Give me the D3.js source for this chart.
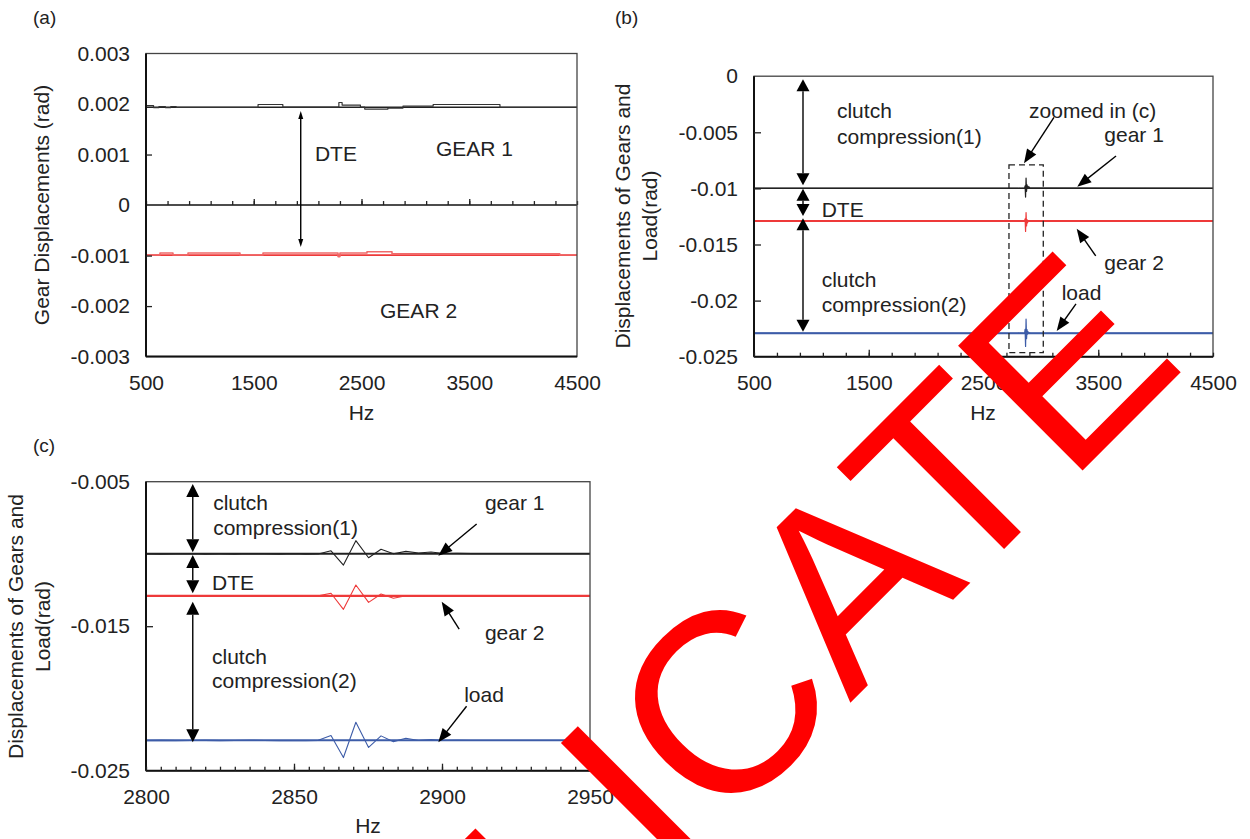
<!DOCTYPE html>
<html><head><meta charset="utf-8">
<script src="https://cdn.jsdelivr.net/npm/d3@7"></script>
<style>
body{margin:0;background:#fff;}
svg{display:block;font-family:"Liberation Sans",Arial,sans-serif;}
</style></head><body>
<svg id="chart" width="1250" height="839"></svg>
<script>
// ================= DATA =================
const hzLabelsWide = [500, 1500, 2500, 3500, 4500];
const hzLabelsZoom = [2800, 2850, 2900, 2950];
const yTicksA = [0.003, 0.002, 0.001, 0, -0.001, -0.002, -0.003];
const yTicksB = [0, -0.005, -0.01, -0.015, -0.02, -0.025];
const yTicksC = [-0.005, -0.015, -0.025];
const yLabelsA = ["0.003", "0.002", "0.001", "0", "-0.001", "-0.002", "-0.003"];
const yLabelsB = ["0", "-0.005", "-0.01", "-0.015", "-0.02", "-0.025"];
const yLabelsC = ["-0.005", "-0.015", "-0.025"];

// Panel (a): gear displacements (stepped traces + steady level)
const hzA_gear1 = [500, 570, 620, 680, 730, 780, 1540, 1770, 2290, 2320, 2490, 2530, 2745, 2885, 3165, 3785, 4500];
const valA_gear1 = [0.00197, 0.00193, 0.00195, 0.00193, 0.00195, 0.001935, 0.00199, 0.00194, 0.00203, 0.00198, 0.00194, 0.00190, 0.00192, 0.00196, 0.00199, 0.001935, 0.001935];
const levelA_gear1 = 0.001935;
const hzA_gear2 = [500, 630, 750, 890, 1372, 1586, 2282, 2300, 2551, 2783, 4340, 4500];
const valA_gear2 = [-0.00099, -0.00095, -0.00099, -0.00095, -0.00099, -0.00095, -0.00102, -0.00095, -0.000925, -0.000964, -0.00099, -0.00099];
const levelA_gear2 = -0.00099;

// Panels (b)/(c): steady levels and transient traces
const level_gear1 = -0.00999;
const level_gear2 = -0.0129;
const level_load = -0.0229;
const hzC = [2800, 2805, 2810, 2815, 2820, 2825, 2830, 2835, 2840, 2845, 2850, 2854, 2858.2, 2862.5, 2866.7, 2870.9, 2875.2, 2879.4, 2883.6, 2887.8, 2892.1, 2896.3, 2900.5, 2905, 2910, 2920, 2930, 2940, 2950];
const gear1C = [-0.01000, -0.01001, -0.01000, -0.00999, -0.01001, -0.01000, -0.01001, -0.00999, -0.01000, -0.01001, -0.00999, -0.01001, -0.01000, -0.00978, -0.01077, -0.00908, -0.01026, -0.00968, -0.00999, -0.00982, -0.00993, -0.00986, -0.00997, -0.00996, -0.00998, -0.00998, -0.00998, -0.00998, -0.00998];
const gear2C = [-0.01290, -0.01291, -0.01290, -0.01289, -0.01291, -0.01290, -0.01291, -0.01290, -0.01289, -0.01291, -0.01290, -0.01292, -0.01290, -0.01272, -0.01383, -0.01215, -0.01335, -0.01277, -0.01307, -0.01289, -0.01293, -0.01289, -0.01290, -0.01290, -0.01290, -0.01290, -0.01290, -0.01290, -0.01290];
const loadC = [-0.02292, -0.02290, -0.02292, -0.02291, -0.02290, -0.02292, -0.02291, -0.02289, -0.02291, -0.02293, -0.02291, -0.02292, -0.02290, -0.02256, -0.02409, -0.02165, -0.02339, -0.02259, -0.02299, -0.02276, -0.02291, -0.02285, -0.02291, -0.02290, -0.02291, -0.02291, -0.02291, -0.02291, -0.02291];

// ================= DRAW =================
const svg = d3.select("#chart");
const FONT = 21, INK = "#222", RED = "#ee3a3a", BLUE = "#3d5ca8";

function frame(g, x, y) {
  const [x0, x1] = x.range(), [yb, yt] = y.range();
  g.append("rect").attr("x", x0).attr("y", yt).attr("width", x1 - x0).attr("height", yb - yt)
    .attr("fill", "none").attr("stroke", "#444").attr("stroke-width", 1.3);
  g.append("line").attr("x1", x0).attr("x2", x0).attr("y1", yt).attr("y2", yb).attr("stroke", "#111").attr("stroke-width", 2);
  g.append("line").attr("x1", x0).attr("x2", x1).attr("y1", yb).attr("y2", yb).attr("stroke", "#111").attr("stroke-width", 2);
}
function styleAxis(a) {
  a.select(".domain").remove();
  a.attr("font-family", null).attr("font-size", null);
  a.selectAll("line").attr("stroke", INK).attr("stroke-width", 1.3);
  a.selectAll("text").attr("fill", INK).attr("font-size", FONT);
}
function xTickMarks(g, x, ypos, values, size) {
  g.append("g").attr("transform", `translate(0,${ypos})`)
    .call(d3.axisBottom(x).tickValues(values).tickSize(-size).tickFormat("")).call(styleAxis);
}
function xLabels(g, x, ypos, values) {
  g.append("g").attr("transform", `translate(0,${ypos})`)
    .call(d3.axisBottom(x).tickValues(values).tickSize(0).tickPadding(18).tickFormat(d3.format("d"))).call(styleAxis);
}
function yAxis(g, x, y, values, labels, tickVals, size) {
  const x0 = x.range()[0];
  g.append("g").attr("transform", `translate(${x0},0)`)
    .call(d3.axisLeft(y).tickValues(values).tickSize(0).tickPadding(16).tickFormat((d, i) => labels[i])).call(styleAxis);
  g.append("g").attr("transform", `translate(${x0},0)`)
    .call(d3.axisRight(y).tickValues(tickVals).tickSize(size).tickFormat("")).call(styleAxis);
}
function text(g, px, py, s, opts = {}) {
  return g.append("text").attr("x", px).attr("y", py).attr("fill", INK)
    .attr("font-size", opts.size || FONT).attr("text-anchor", opts.anchor || "start").text(s);
}
function head(g, tip, from, len, w) {
  const dx = tip[0] - from[0], dy = tip[1] - from[1], L = Math.hypot(dx, dy);
  const ux = dx / L, uy = dy / L, bx = tip[0] - ux * len, by = tip[1] - uy * len;
  g.append("path").attr("d", `M${tip[0]},${tip[1]}L${bx - uy * w / 2},${by + ux * w / 2}L${bx + uy * w / 2},${by - ux * w / 2}Z`).attr("fill", "#000");
  return [bx, by];
}
function arrow(g, from, tip, len, w) {
  const b = head(g, tip, from, len, w);
  g.append("line").attr("x1", from[0]).attr("y1", from[1]).attr("x2", b[0] + (tip[0] - b[0]) * 0.3).attr("y2", b[1] + (tip[1] - b[1]) * 0.3)
    .attr("stroke", "#000").attr("stroke-width", 1.4);
}
function dblArrow(g, p1, p2, len, w) {
  const b1 = head(g, p1, p2, len, w), b2 = head(g, p2, p1, len, w);
  g.append("line").attr("x1", b1[0]).attr("y1", b1[1]).attr("x2", b2[0]).attr("y2", b2[1]).attr("stroke", "#000").attr("stroke-width", 1.4);
}
function path(g, x, y, xs, ys, color, width, curve) {
  const ln = d3.line().x(d => x(d[0])).y(d => y(d[1]));
  if (curve) ln.curve(curve);
  g.append("path").datum(xs.map((h, i) => [h, ys[i]])).attr("d", ln)
    .attr("fill", "none").attr("stroke", color).attr("stroke-width", width).attr("stroke-linejoin", "round");
}
function hline(g, x, y, v, color, width) {
  const d = x.domain();
  path(g, x, y, [d[0], d[1]], [v, v], color, width);
}
function yTitle(g, cx, cy, lines, step) {
  lines.forEach((s, i) => g.append("text").attr("transform", `translate(${cx + i * step},${cy}) rotate(-90)`)
    .attr("text-anchor", "middle").attr("fill", INK).attr("font-size", FONT).text(s));
}

// ---------- Panel (a) ----------
{
  const g = svg.append("g");
  const x = d3.scaleLinear().domain([500, 4500]).range([146, 577]);
  const y = d3.scaleLinear().domain([-0.003, 0.003]).range([356.6, 53.5]);
  text(g, 33, 24, "(a)", {size: 19});
  // zero line with ticks
  hline(g, x, y, 0, "#111", 1.5);
  xTickMarks(g, x, y(0), d3.range(500, 4501, 200), 4);
  xTickMarks(g, x, y(0), [1500, 2500, 3500], 6);
  hline(g, x, y, levelA_gear1, "#222", 1.6);
  path(g, x, y, hzA_gear1, valA_gear1, "#333", 1.2, d3.curveStepAfter);
  hline(g, x, y, levelA_gear2, RED, 1.8);
  path(g, x, y, hzA_gear2, valA_gear2, "#f06a6a", 1.6, d3.curveStepAfter);
  frame(g, x, y);
  yAxis(g, x, y, yTicksA, yLabelsA, [0.001, -0.001, -0.002], 6);
  xLabels(g, x, y.range()[0], hzLabelsWide);
  text(g, (x.range()[0] + x.range()[1]) / 2, 420, "Hz", {anchor: "middle"});
  yTitle(g, 49, 205, ["Gear Displacements (rad)"], 0);
  dblArrow(g, [x(1936), y(0.00186)], [x(1936), y(-0.00083)], 8, 5);
  text(g, x(2068), y(0.00087), "DTE");
  text(g, x(3191), y(0.00097), "GEAR 1");
  text(g, x(2672), y(-0.00224), "GEAR 2");
}

// ---------- Panel (b) ----------
{
  const g = svg.append("g");
  const x = d3.scaleLinear().domain([500, 4500]).range([754, 1213]);
  const y = d3.scaleLinear().domain([-0.025, 0]).range([356.7, 76.2]);
  text(g, 615, 24, "(b)", {size: 19});
  const ext = (arr, lvl) => [lvl, ...arr, lvl];
  const hzB = [500, ...hzC, 4500];
  hline(g, x, y, level_gear1, "#222", 1.5);
  path(g, x, y, hzB, ext(gear1C, level_gear1), "#222", 1.2);
  hline(g, x, y, level_gear2, RED, 2);
  path(g, x, y, hzB, ext(gear2C, level_gear2), RED, 1.2);
  hline(g, x, y, level_load, BLUE, 2);
  path(g, x, y, hzB, ext(loadC, level_load), BLUE, 1.2);
  frame(g, x, y);
  xTickMarks(g, x, y.range()[0], d3.range(500, 4501, 200), 4);
  xTickMarks(g, x, y.range()[0], [1500, 2500, 3500], 7);
  yAxis(g, x, y, yTicksB, yLabelsB, [-0.005, -0.01, -0.015, -0.02], 7);
  xLabels(g, x, y.range()[0], hzLabelsWide);
  text(g, 983, 420, "Hz", {anchor: "middle"});
  yTitle(g, 630, 216, ["Displacements of Gears and", "Load(rad)"], 27);
  // dashed zoom box
  g.append("rect").attr("x", x(2722)).attr("y", y(-0.00791)).attr("width", x(3021) - x(2722)).attr("height", y(-0.02464) - y(-0.00791))
    .attr("fill", "none").attr("stroke", "#222").attr("stroke-width", 1.3).attr("stroke-dasharray", "6,4");
  const ax = 927;
  dblArrow(g, [x(ax), y(-0.00028)], [x(ax), y(-0.00973)], 12, 13);
  dblArrow(g, [x(ax), y(-0.01003)], [x(ax), y(-0.01246)], 12, 13);
  dblArrow(g, [x(ax), y(-0.01267)], [x(ax), y(-0.02277)], 12, 13);
  text(g, x(1223), y(-0.00375), "clutch");
  text(g, x(1223), y(-0.00607), "compression(1)");
  text(g, x(1090), y(-0.01252), "DTE");
  text(g, x(1090), y(-0.01876), "clutch");
  text(g, x(1090), y(-0.02099), "compression(2)");
  text(g, x(2897), y(-0.00375), "zoomed in (c)");
  text(g, x(3553), y(-0.00584), "gear 1");
  text(g, x(3553), y(-0.01727), "gear 2");
  text(g, x(3181), y(-0.01995), "load");
  arrow(g, [x(3114), y(-0.00366)], [x(2853), y(-0.00776)], 14, 11);
  arrow(g, [x(3655), y(-0.00711)], [x(3317), y(-0.00985)], 14, 11);
  arrow(g, [x(3478), y(-0.01602)], [x(3312), y(-0.01359)], 14, 11);
  arrow(g, [x(3306), y(-0.0203)], [x(3138), y(-0.02271)], 14, 11);
}

// ---------- Panel (c) ----------
{
  const g = svg.append("g");
  const x = d3.scaleLinear().domain([2800, 2950]).range([146, 590]);
  const y = d3.scaleLinear().domain([-0.025, -0.005]).range([770.7, 481.7]);
  text(g, 33, 452, "(c)", {size: 19});
  hline(g, x, y, level_gear1, "#222", 2);
  path(g, x, y, hzC, gear1C, "#222", 1.1);
  hline(g, x, y, level_gear2, RED, 2.2);
  path(g, x, y, hzC, gear2C, RED, 1.1);
  hline(g, x, y, level_load, BLUE, 2);
  path(g, x, y, hzC, loadC, BLUE, 1.1);
  frame(g, x, y);
  xTickMarks(g, x, y.range()[0], d3.range(2800, 2951, 5), 4);
  xTickMarks(g, x, y.range()[0], [2850, 2900], 7);
  yAxis(g, x, y, yTicksC, yLabelsC, [-0.015], 7);
  xLabels(g, x, y.range()[0], hzLabelsZoom);
  text(g, 368, 833, "Hz", {anchor: "middle"});
  yTitle(g, 23, 626.5, ["Displacements of Gears and", "Load(rad)"], 27);
  const ax = 2815.8;
  dblArrow(g, [x(ax), y(-0.00516)], [x(ax), y(-0.00989)], 13, 13);
  dblArrow(g, [x(ax), y(-0.01007)], [x(ax), y(-0.01272)], 13, 13);
  dblArrow(g, [x(ax), y(-0.0133)], [x(ax), y(-0.02303)], 13, 13);
  text(g, x(2822.7), y(-0.006938), "clutch");
  text(g, x(2822.7), y(-0.008668), "compression(1)");
  text(g, x(2822.3), y(-0.012474), "DTE");
  text(g, x(2822.3), y(-0.017616), "clutch");
  text(g, x(2822.3), y(-0.019298), "compression(2)");
  text(g, x(2914.5), y(-0.006938), "gear 1");
  text(g, x(2914.5), y(-0.015934), "gear 2");
  text(g, x(2907.5), y(-0.020266), "load");
  arrow(g, [x(2911.7), y(-0.007927)], [x(2898.75), y(-0.010121)], 14, 11);
  arrow(g, [x(2905.8), y(-0.015194)], [x(2899.9), y(-0.013304)], 14, 11);
  arrow(g, [x(2908.3), y(-0.020543)], [x(2898.75), y(-0.023035)], 14, 11);
}

// ---------- Overlay stamp ----------
svg.append("text").attr("transform", "translate(1188.5,364.5) rotate(-45)")
  .attr("text-anchor", "end").attr("font-size", 256).attr("fill", "#ff0000")
  .attr("font-family", "'Liberation Sans', Arial, sans-serif").text("DUPLICATE");
</script>
</body></html>
